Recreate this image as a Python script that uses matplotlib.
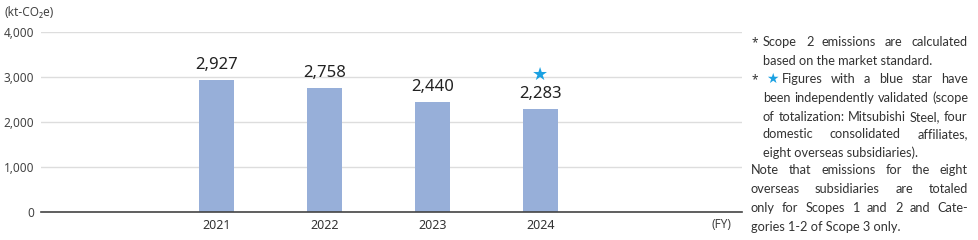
import matplotlib.pyplot as plt

# Data
years = ['2021', '2022', '2023', '2024']
emissions = [2927, 2758, 2440, 2283]
validated = [False, False, False, True]
y_ticks = [0, 1000, 2000, 3000, 4000]

bar_color = '#97AFD9'
star_color = '#1BA1E2'
text_color = '#333333'

plt.rcParams['font.family'] = ['Noto Sans', 'DejaVu Sans']

fig = plt.figure(figsize=(9.79, 2.4), dpi=100)
# axes spans y 0..4000 from pixel 212 to 32
ax = fig.add_axes([41 / 979, (240 - 212) / 240, (742 - 41) / 979, (212 - 32) / 240])

x = list(range(len(years)))
ax.bar(x, emissions, width=0.325, color=bar_color, zorder=3)
ax.set_xlim(-1.63, 4.87)
ax.set_ylim(0, 4000)
ax.set_yticks(y_ticks)
ax.set_yticklabels([f'{v:,}' for v in y_ticks], fontsize=8.5, color='#444444')
ax.set_xticks(x)
ax.set_xticklabels(years, fontsize=9, color=text_color)
ax.tick_params(axis='both', length=0)
ax.tick_params(axis='y', pad=5)
ax.tick_params(axis='x', pad=5)
ax.grid(axis='y', color='#dddddd', linewidth=1, zorder=0)
for side in ['top', 'right', 'left']:
    ax.spines[side].set_visible(False)
ax.spines['bottom'].set_color('#444444')
ax.spines['bottom'].set_linewidth(1.2)
ax.spines['bottom'].set_zorder(4)

for xi, v, val in zip(x, emissions, validated):
    ax.annotate(f'{v:,}', (xi, v), xytext=(0, 5), textcoords='offset points',
                ha='center', va='bottom', fontsize=12, color='#222222')
    if val:
        ax.annotate('★', (xi, v), xytext=(0, 18), textcoords='offset points',
                    ha='center', va='bottom', fontsize=13, color=star_color,
                    family=['DejaVu Sans'])

fig.text(5 / 979, 1 - 12 / 240, '(kt-CO₂e)', fontsize=8.5, color='#444444', va='center')
fig.text(731 / 979, 1 - 225 / 240, '(FY)', fontsize=8.5, color='#444444', va='center', ha='right')

# Notes on the right, justified line by line
notes = [
    # (x_start, text, justify)
    (763, 'Scope 2 emissions are calculated', True),
    (763, 'based on the market standard.', False),
    (782, 'Figures with a blue star have', True),
    (763, 'been independently validated (scope', True),
    (763, 'of totalization: Mitsubishi Steel, four', True),
    (763, 'domestic consolidated affiliates,', True),
    (763, 'eight overseas subsidiaries).', False),
    (751, 'Note that emissions for the eight', True),
    (751, 'overseas subsidiaries are totaled', True),
    (751, 'only for Scopes 1 and 2 and Cate-', True),
    (751, 'gories 1-2 of Scope 3 only.', False),
]
line_y = [42, 61, 79, 98, 117, 134, 153, 170, 189, 208, 227]
right_edge = 968
note_size = 9.2
min_gap = 2.5
note_font = ['Lato', 'DejaVu Sans']

renderer = fig.canvas.get_renderer()
for (x0, line, justify), py in zip(notes, line_y):
    yf = 1 - (py + 4) / 240
    words = line.split(' ')
    if not justify:
        fig.text(x0 / 979, yf, line, fontsize=note_size, color=text_color, va='baseline',
                 family=note_font)
        continue
    objs = [fig.text(0, yf, w, fontsize=note_size, color=text_color, va='baseline',
                     family=note_font) for w in words]
    widths = [o.get_window_extent(renderer).width for o in objs]
    avail = right_edge - x0 - min_gap * (len(words) - 1)
    if sum(widths) > avail:
        # shrink this line a little so it fits
        size = round(note_size * avail / sum(widths), 1)
        for o in objs:
            o.set_fontsize(size)
        widths = [o.get_window_extent(renderer).width for o in objs]
    gap = (right_edge - x0 - sum(widths)) / (len(words) - 1)
    cur = x0
    for o, w in zip(objs, widths):
        o.set_x(round(cur) / 979)
        cur += w + gap

fig.text(752 / 979, 1 - 43 / 240, '*', fontsize=8.5, color=text_color, va='center', ha='left')
fig.text(752 / 979, 1 - 80 / 240, '*', fontsize=8.5, color=text_color, va='center', ha='left')
fig.text(766 / 979, 1 - 79 / 240, '★', fontsize=10, color=star_color, va='center', ha='left',
         family=['DejaVu Sans'])

fig.savefig('out.png', dpi=100)
